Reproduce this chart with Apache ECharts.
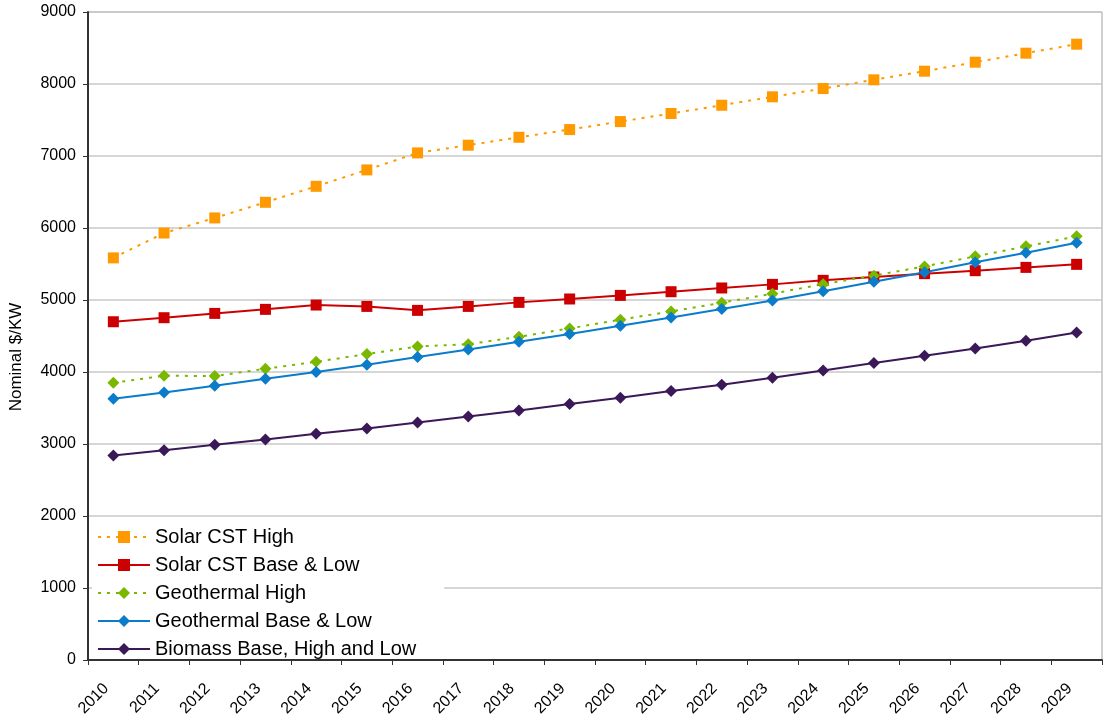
<!DOCTYPE html>
<html>
<head>
<meta charset="utf-8">
<script src="https://cdn.jsdelivr.net/npm/echarts@6/dist/echarts.min.js"></script>
<style>
html,body{margin:0;padding:0;background:#fff;}
#chart{width:1103px;height:717px;}
</style>
</head>
<body>
<div id="chart"></div>
<script>
const years = ['2010','2011','2012','2013','2014','2015','2016','2017','2018','2019','2020','2021','2022','2023','2024','2025','2026','2027','2028','2029'];
const solarHigh = [5585,5930,6140,6357,6579,6807,7043,7150,7260,7367,7478,7590,7705,7822,7937,8058,8178,8303,8428,8553];
const solarBase = [4698,4754,4814,4870,4930,4911,4856,4911,4967,5014,5064,5115,5167,5217,5273,5320,5366,5407,5453,5495];
const geoHigh = [3850,3948,3944,4045,4142,4249,4355,4385,4490,4605,4726,4842,4962,5088,5220,5338,5467,5606,5745,5884];
const geoBase = [3628,3716,3809,3906,3999,4101,4207,4312,4420,4527,4643,4758,4875,4994,5122,5254,5384,5523,5657,5796];
const biomass = [2840,2914,2989,3063,3141,3216,3299,3382,3466,3554,3642,3735,3823,3920,4020,4124,4226,4327,4434,4550];
const seriesNames = ['Solar CST High','Solar CST Base & Low','Geothermal High','Geothermal Base & Low','Biomass Base, High and Low'];

const FONT = '"Liberation Sans", Arial, sans-serif';
const chart = echarts.init(document.getElementById('chart'), null, {renderer:'canvas'});

function mk(name, data, color, symbol, size, dashed){
  return {
    name: name, type: 'line', data: data,
    symbol: symbol, symbolSize: size,
    itemStyle: {color: color},
    lineStyle: {color: color, width: 2, type: dashed ? [3,6] : 'solid'},
    emphasis: {disabled: true},
    animation: false
  };
}

chart.setOption({
  backgroundColor: '#fff',
  animation: false,
  textStyle: {fontFamily: FONT},
  grid: {left: 88, right: 1, top: 12, bottom: 57, show: true, borderColor: '#a0a0a0', borderWidth: 1, containLabel: false, outerBoundsMode: 'none'},
  legend: {
    orient: 'vertical', left: 92, top: 525,
    itemWidth: 52, itemHeight: 15, itemGap: 8,
    backgroundColor: '#fff', padding: [2, 28, 0, 5],
    textStyle: {fontSize: 20, color: '#000', fontFamily: FONT},
    data: seriesNames
  },
  xAxis: {
    type: 'category', data: years, boundaryGap: true, z: 10,
    axisLine: {lineStyle: {color: '#333', width: 2}},
    axisTick: {show: true, length: 5, lineStyle: {color: '#333'}},
    axisLabel: {rotate: 45, interval: 0, fontSize: 16, color: '#000', margin: 19, padding: [0, 10, 0, 0], fontFamily: FONT},
    splitLine: {show: false}
  },
  yAxis: {
    type: 'value', min: 0, max: 9000, interval: 1000,
    name: 'Nominal $/KW', nameLocation: 'middle', nameGap: 63,
    nameTextStyle: {fontSize: 17, color: '#000', fontFamily: FONT, padding: [0, 42, 0, 0]},
    axisLine: {show: true, lineStyle: {color: '#333', width: 2}},
    axisTick: {show: true, length: 5, lineStyle: {color: '#333'}},
    axisLabel: {fontSize: 16, color: '#000', margin: 12, fontFamily: FONT, formatter: function(v){ return String(v); }},
    splitLine: {show: true, lineStyle: {color: '#c8c8c8', width: 1.5}}
  },
  series: [
    mk(seriesNames[0], solarHigh, '#FF9900', 'rect', 11, true),
    mk(seriesNames[1], solarBase, '#CC0000', 'rect', 11, false),
    mk(seriesNames[2], geoHigh, '#7AB800', 'diamond', 12, true),
    mk(seriesNames[3], geoBase, '#0A7CC9', 'diamond', 12, false),
    mk(seriesNames[4], biomass, '#3B1858', 'diamond', 12, false)
  ]
});
</script>
</body>
</html>
